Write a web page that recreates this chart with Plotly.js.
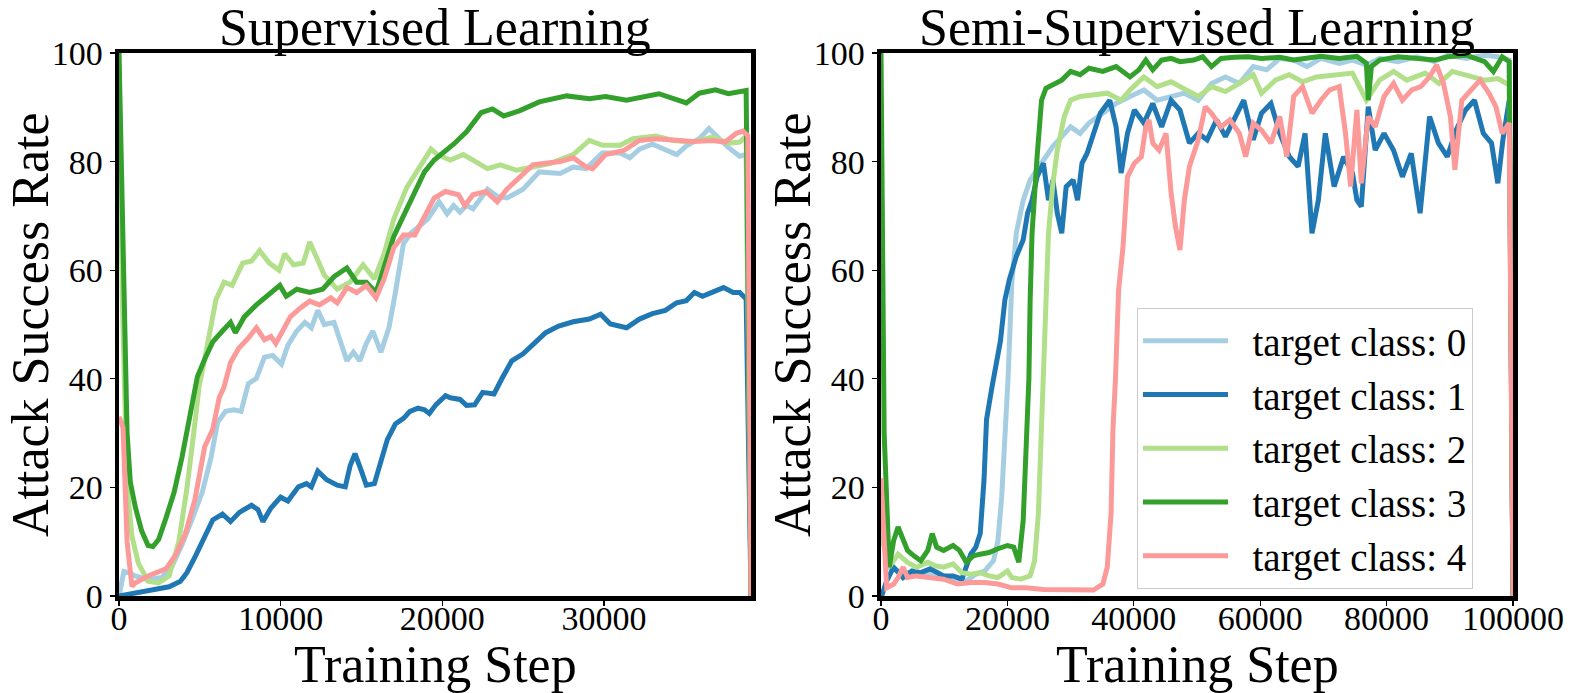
<!DOCTYPE html>
<html>
<head>
<meta charset="utf-8">
<script src="https://cdn.plot.ly/plotly-3.0.1.min.js"></script>
<style>html,body{margin:0;padding:0;background:#fff;}#chart{width:1574px;height:693px;}</style>
</head>
<body>
<div id="chart"></div>
<script>
// ---------- DATA ----------
var classNames = ["target class: 0", "target class: 1", "target class: 2", "target class: 3", "target class: 4"];
var classColors = ["#a6cee3", "#1f78b4", "#b2df8a", "#33a02c", "#fb9a99"];
var subplotTitles = ["Supervised Learning", "Semi-Supervised Learning"];
var xTitle = "Training Step";
var yTitle = "Attack Success Rate";
var supTickVals = [0, 10000, 20000, 30000];
var semiTickVals = [0, 20000, 40000, 60000, 80000, 100000];
var yTickVals = [0, 20, 40, 60, 80, 100];
var supXMax = 39100;
var semiXMax = 100000;

// Supervised Learning
var sup_x_c0 = [0, 300, 600, 1000, 1800, 2650, 3300, 3900, 4500, 5150, 5700, 6100, 6600, 7100, 7550, 8000, 8500, 9000, 9500, 10050, 10450, 11000, 11500, 11900, 12300, 12700, 13300, 13700, 14100, 14500, 14900, 15300, 15700, 16200, 16700, 17100, 17600, 18050, 18600, 19100, 19800, 20300, 20700, 21100, 21500, 21900, 22800, 23400, 24000, 25000, 26000, 27300, 28100, 28900, 29900, 31000, 31600, 32200, 33000, 33800, 34500, 35100, 35900, 36500, 37100, 37700, 38400, 38800, 39100];
var sup_y_c0 = [0, 4.5, 4.3, 3.7, 3, 3.4, 5.6, 9.5, 14, 19.1, 25.6, 32, 34, 34.3, 34, 39.1, 40.1, 44, 44.3, 42.7, 46.2, 48.8, 50.4, 49.4, 52.6, 50, 50.4, 46.8, 43.3, 44.9, 43.3, 46.5, 48.8, 44.9, 49.4, 55.9, 64.9, 66.8, 68.1, 69.4, 72.6, 70.4, 71.9, 70.7, 71.9, 71.3, 74.9, 73.6, 73.3, 74.9, 78.1, 77.8, 79, 78.7, 81.6, 81.6, 80.7, 82.3, 83.2, 82.3, 81.3, 82.9, 84.2, 86.1, 84.2, 82.6, 81, 81.3, 0];
var sup_x_c1 = [0, 1000, 2200, 3100, 3800, 4200, 4750, 5300, 5800, 6400, 6900, 7450, 8200, 8600, 8900, 9400, 10000, 10450, 11100, 11600, 11900, 12300, 12850, 13500, 14000, 14300, 14600, 15000, 15300, 15800, 16200, 16600, 17100, 17600, 18000, 18500, 18900, 19200, 19600, 20200, 20500, 21100, 21500, 22000, 22500, 23200, 23700, 24300, 25000, 25800, 26400, 27200, 28100, 29100, 29800, 30400, 31400, 32200, 33000, 33800, 34500, 35100, 35600, 36100, 36700, 37400, 38000, 38400, 38800, 39100];
var sup_y_c1 = [0, 0.6, 1.1, 1.7, 2.7, 4.3, 7.5, 10.8, 14, 15.1, 13.7, 15.4, 16.7, 15.9, 13.7, 16.2, 18.2, 17.5, 20.1, 20.7, 20.1, 23, 21.4, 20.4, 20.1, 24, 26.2, 23, 20.4, 20.7, 24.9, 28.8, 31.7, 32.7, 34, 34.6, 34.3, 33.6, 35.2, 36.9, 36.5, 36.2, 35.1, 35.2, 37.5, 37.2, 40.1, 43.3, 44.6, 46.8, 48.5, 49.7, 50.5, 51, 51.9, 50.1, 49.4, 51, 52, 52.6, 54, 54.4, 55.9, 55.2, 56, 56.8, 55.9, 55.9, 54.7, 0];
var sup_x_c2 = [0, 200, 500, 800, 1200, 1800, 2450, 3100, 3700, 4200, 4600, 4950, 5300, 5600, 6000, 6500, 7000, 7650, 8200, 8700, 9300, 9900, 10250, 10800, 11400, 11800, 12200, 12700, 13500, 14300, 15100, 15800, 16400, 17000, 17800, 18600, 19300, 19700, 20500, 21300, 21900, 22800, 23600, 24600, 25600, 26700, 28100, 29100, 29900, 31000, 31800, 33200, 34300, 35500, 36700, 37700, 38400, 38800, 39100];
var sup_y_c2 = [100, 55, 20, 11, 6, 2.7, 2.4, 3.7, 10, 19.8, 29.4, 38.5, 43.6, 48.8, 54.6, 57.8, 57.2, 61.3, 61.7, 63.6, 61.3, 60, 63, 61, 61.3, 65.2, 62.3, 59.1, 56.5, 57.8, 61, 58.4, 63, 69.4, 75.2, 79.1, 82.3, 81.3, 80.3, 81.3, 80.3, 78.7, 79.4, 78.4, 79, 79.7, 81.3, 83.9, 83, 83, 84.2, 84.7, 83.9, 83.6, 84.5, 83.4, 83.6, 84.7, 0];
var sup_x_c3 = [0, 250, 500, 700, 1000, 1400, 1800, 2100, 2450, 2900, 3400, 3900, 4400, 4850, 5300, 5800, 6400, 6900, 7200, 7750, 8500, 9300, 9950, 10350, 11000, 11800, 12600, 13300, 14100, 14700, 15300, 15900, 16400, 17000, 17600, 18300, 18900, 19500, 20200, 20700, 21500, 22400, 23100, 23800, 24800, 26000, 27700, 29100, 30100, 31400, 33400, 34300, 35100, 35900, 36900, 37700, 38800, 39100];
var sup_y_c3 = [100, 60, 30, 21, 16.5, 12, 9.3, 9.1, 10.4, 14.3, 19, 25.6, 33.3, 40.4, 43.6, 46.8, 48.8, 50.4, 48.5, 51.4, 53.6, 55.5, 57.2, 55.2, 56.5, 55.9, 56.5, 58.8, 60.4, 57.8, 57.8, 55.9, 60.4, 66.2, 70, 74.5, 78.1, 80.3, 82, 83.2, 85.5, 89, 89.7, 88.4, 89.4, 91, 92.1, 91.6, 92, 91.3, 92.5, 91.6, 90.8, 92.6, 93.2, 92.5, 93.1, 0];
var sup_x_c4 = [0, 250, 500, 800, 1000, 1800, 2900, 3500, 4100, 4700, 5300, 5800, 6200, 6500, 6900, 7400, 8000, 8500, 9000, 9400, 9700, 10100, 10600, 11200, 11800, 12400, 13100, 13500, 14100, 14700, 15300, 15900, 16400, 17000, 17600, 18300, 18900, 19500, 20200, 20500, 21000, 21400, 21900, 22700, 23400, 24000, 24800, 25600, 26400, 27300, 28100, 28900, 29300, 30100, 31200, 32200, 33200, 34300, 35500, 36700, 37500, 38200, 38600, 38900, 39100];
var sup_y_c4 = [33, 31, 10, 1.8, 2.4, 3.7, 5, 7.5, 11.4, 17.8, 27.5, 30.7, 36.5, 38.5, 43, 45.6, 47.5, 49.4, 47.2, 47.8, 46.5, 48.8, 51.4, 53, 54.3, 53.6, 54.9, 54, 56.8, 55.9, 57.2, 54.9, 58.4, 64.2, 66.5, 66.5, 70, 73.3, 74.5, 74.2, 73.9, 71.9, 73.9, 74.5, 72.6, 74.9, 77.1, 79.4, 79.7, 80, 80.7, 79, 78.7, 81.3, 82, 83.9, 84.2, 83.9, 83.7, 83.9, 83.6, 85.2, 85.6, 84.8, 0];

// Semi-Supervised Learning
var semi_x_c0 = [0, 400, 1300, 2700, 4200, 6300, 8500, 11400, 13500, 15000, 16400, 17800, 18500, 19100, 19600, 20100, 20700, 21400, 22500, 23600, 24700, 25700, 27200, 28600, 30000, 31500, 32900, 35100, 37200, 39400, 41600, 43700, 45900, 48000, 50200, 52300, 54500, 56700, 58900, 61000, 63100, 65300, 67400, 69600, 72500, 74600, 76800, 78900, 81800, 84700, 87600, 89700, 92600, 95500, 97600, 99400, 100000];
var semi_y_c0 = [20, 18, 5.3, 4.6, 4.3, 4, 4, 3.4, 2.8, 4, 4.6, 6.5, 10.2, 18.3, 27.6, 40, 57.6, 66.8, 72.9, 76.6, 78.5, 80.3, 82.8, 84.6, 86.4, 85.2, 87.1, 88.9, 90.7, 92, 93.2, 91.3, 92, 92.6, 91.3, 94.4, 95.6, 94.4, 97.5, 96.9, 99, 98.7, 97.5, 99, 98.1, 98.7, 97.8, 99, 98.4, 99.3, 98.4, 99.6, 99, 99.6, 99.3, 98.7, 0];
var semi_x_c1 = [0, 200, 900, 2000, 3500, 4900, 6300, 7800, 9900, 11400, 12800, 14200, 15000, 15700, 16300, 16700, 17500, 18200, 18900, 19600, 20300, 21400, 22500, 23200, 23900, 24700, 25700, 26500, 27200, 27900, 28600, 29300, 30400, 31100, 31800, 32600, 33600, 34700, 36200, 37200, 38000, 39000, 40100, 41600, 43000, 44400, 45900, 47300, 48800, 50200, 51600, 53100, 54500, 55900, 57400, 58900, 60200, 61700, 63100, 64600, 66000, 67100, 68200, 69200, 70300, 71700, 73200, 74600, 75300, 76000, 77100, 78200, 79600, 81100, 82500, 83900, 85300, 86800, 88200, 89600, 91000, 92500, 93900, 95300, 96600, 97600, 98400, 99400, 100000];
var semi_y_c1 = [0, 0.3, 2.8, 5.3, 3.4, 4.6, 4.3, 5, 3.7, 3.7, 3.1, 7.7, 9, 11.5, 21.4, 32.5, 38.1, 42, 47, 54.5, 58.2, 62.5, 65.6, 70.5, 72.9, 77.2, 79.7, 72.9, 76.6, 70.5, 66.8, 75.4, 76.6, 72.9, 79.7, 81.5, 85.2, 88.9, 91.3, 86.4, 77.9, 85.2, 89.5, 87.1, 90.7, 86.4, 91.3, 89.5, 83.4, 85.2, 84, 87.7, 84.6, 87.7, 91.3, 84, 88.9, 90.7, 85.2, 80.9, 79.1, 85.2, 66.8, 72.9, 85.2, 75.4, 80.9, 77.9, 72.9, 71.7, 90.1, 82.1, 85.2, 82.1, 77.2, 81.5, 70.5, 88.3, 83.4, 80.9, 85.8, 89.5, 91.3, 85.2, 83.4, 76, 84, 91.3, 0];
var semi_x_c2 = [0, 300, 1300, 2700, 4200, 5600, 7400, 8500, 9900, 11400, 12800, 14200, 15700, 17100, 18500, 20000, 20700, 22100, 23600, 24300, 24900, 25400, 25700, 26500, 27200, 27900, 29000, 30000, 31500, 33600, 35800, 38000, 39400, 41600, 43700, 45900, 48000, 50200, 52300, 54500, 56700, 58900, 60200, 62400, 64600, 66700, 68900, 71800, 74600, 76800, 78900, 81100, 83200, 86100, 88300, 90400, 93300, 95500, 97600, 99400, 100000];
var semi_y_c2 = [15, 10, 5.3, 7.7, 6.2, 5.3, 6.2, 5.6, 5.3, 5.9, 4.3, 4, 4.3, 3.7, 3.4, 4.6, 3.4, 3.1, 3.7, 6.5, 15.2, 30.7, 40, 66.8, 76, 82.1, 88.3, 91.3, 92, 92.3, 92.6, 91.3, 93.2, 95.6, 93.8, 94.7, 93.5, 92, 93.8, 92.9, 94.4, 96, 92.6, 95, 96, 94.7, 95.6, 96, 96.3, 91.3, 95, 96.6, 95, 96.3, 94.4, 96.6, 95.6, 95, 95.3, 94.1, 0];
var semi_x_c3 = [0, 500, 1300, 2000, 2700, 3500, 4200, 5200, 6300, 7400, 8100, 8800, 9900, 11400, 12400, 13500, 14600, 15700, 17100, 18500, 20000, 21000, 21800, 22500, 23000, 23400, 23600, 23900, 24700, 25400, 26100, 27200, 28600, 30000, 31500, 32900, 35100, 37200, 39400, 40800, 41900, 43000, 44400, 45900, 47300, 49500, 50900, 52300, 53800, 55900, 58100, 60200, 63100, 65300, 67400, 69600, 72500, 75300, 76800, 77100, 77600, 78900, 81800, 84700, 87600, 89700, 92600, 95500, 96900, 98300, 99400, 100000];
var semi_y_c3 = [100, 30, 5.3, 10.2, 12.7, 10.2, 8.4, 7.4, 6.5, 8.4, 11.5, 9, 8.4, 9.3, 8.4, 6.2, 7.4, 7.7, 8, 8.7, 9.3, 9, 6.2, 13.9, 27.6, 40, 54.5, 66.8, 80.9, 91.3, 93.5, 94.1, 95, 96.6, 96, 97.2, 96.6, 97.5, 95.6, 96.9, 98.7, 96.9, 98.7, 99, 98.4, 98.7, 99.3, 97.5, 99, 99.2, 99.3, 99, 99.2, 98.7, 99, 99.4, 99, 99.4, 98.1, 91.3, 97.5, 98.7, 99.3, 99, 98.7, 99.3, 99.6, 98.4, 96.6, 99.3, 98.4, 0];
var semi_x_c4 = [0, 300, 900, 2000, 2700, 3500, 4200, 5600, 7800, 9900, 12100, 14200, 16400, 18500, 20700, 22900, 25700, 28600, 31500, 33600, 35100, 35800, 36400, 36700, 37100, 37600, 38300, 39000, 40100, 41200, 41900, 42400, 43000, 44000, 45100, 45900, 46600, 47300, 48000, 48800, 50200, 51300, 52300, 53800, 55200, 56700, 57700, 58900, 60200, 61700, 63100, 64200, 65300, 66700, 68200, 69600, 71000, 72500, 73500, 74300, 75300, 76000, 77100, 78200, 79600, 81100, 82500, 84000, 85400, 86800, 87900, 89000, 90100, 90800, 91900, 93300, 94800, 96200, 97300, 98300, 99400, 100000];
var semi_y_c4 = [21.7, 15, 1.5, 2.2, 3.4, 5.3, 3.4, 3.7, 3.4, 3.1, 2.2, 2.5, 2.5, 2.2, 1.5, 1.5, 1.2, 1.2, 1.1, 1.1, 2.2, 5.3, 15.2, 30.7, 40, 56.4, 64.4, 77.2, 79.7, 80.9, 86.4, 87.7, 83.4, 82.1, 85.2, 74.2, 68, 63.7, 72.9, 79.1, 84, 90.1, 88.9, 86.4, 87.7, 85.2, 80.9, 87.1, 85.8, 83.4, 88.3, 80.9, 92, 93.8, 88.9, 91.3, 93.2, 93.8, 85.2, 75.4, 89.5, 76, 88.3, 86.4, 92, 94.4, 91.3, 93.2, 93.8, 95.6, 97.8, 94.4, 88.3, 78.5, 91.3, 93.2, 95, 92.6, 90.1, 85.2, 87.1, 0];

// ---------- BUILD ----------
var supX = [sup_x_c0, sup_x_c1, sup_x_c2, sup_x_c3, sup_x_c4];
var supY = [sup_y_c0, sup_y_c1, sup_y_c2, sup_y_c3, sup_y_c4];
var semiX = [semi_x_c0, semi_x_c1, semi_x_c2, semi_x_c3, semi_x_c4];
var semiY = [semi_y_c0, semi_y_c1, semi_y_c2, semi_y_c3, semi_y_c4];

var FONT = "Liberation Serif, Times New Roman, serif";
var NB = "\u00a0\u00a0";
var traces = [];
for (var i = 0; i < 5; i++) {
  traces.push({
    type: "scatter", mode: "lines", x: supX[i], y: supY[i],
    xaxis: "x", yaxis: "y", name: classNames[i], legendgroup: "c" + i,
    showlegend: false, line: {color: classColors[i], width: 5}, hoverinfo: "skip"
  });
}
for (var j = 0; j < 5; j++) {
  traces.push({
    type: "scatter", mode: "lines", x: semiX[j], y: semiY[j],
    xaxis: "x2", yaxis: "y2", name: NB + classNames[j], legendgroup: "c" + j,
    showlegend: true, line: {color: classColors[j], width: 5}, hoverinfo: "skip"
  });
}

var d1 = [0, 632 / 1394];
var d2 = [762 / 1394, 1];

function xAxis(domain, range, tickvals, anchor) {
  return {
    domain: domain, range: range, anchor: anchor, tickvals: tickvals, tickformat: "d",
    showgrid: false, zeroline: false, showline: true, mirror: true, linecolor: "#000", linewidth: 4.5,
    ticks: "outside", ticklen: 5, tickwidth: 1.2, tickcolor: "#000", ticklabelstandoff: -16,
    tickfont: {family: FONT, size: 34, color: "#000"}
  };
}
function yAxis(anchor) {
  return {
    domain: [0, 1], range: [0, 100], anchor: anchor, tickvals: yTickVals,
    showgrid: false, zeroline: false, showline: true, mirror: true, linecolor: "#000", linewidth: 4.5,
    ticks: "outside", ticklen: 5, tickwidth: 1.2, tickcolor: "#000",
    tickfont: {family: FONT, size: 34, color: "#000"}
  };
}

var titleFont = {family: FONT, size: 52, color: "#000"};
function ann(o) {
  var a = {xref: "paper", yref: "paper", showarrow: false, font: titleFont};
  for (var k in o) a[k] = o[k];
  return a;
}

var layout = {
  width: 1574, height: 693,
  margin: {l: 119, r: 61, t: 53, b: 97, pad: 0},
  paper_bgcolor: "#fff", plot_bgcolor: "#fff",
  font: {family: FONT, color: "#000"},
  xaxis: xAxis(d1, [0, supXMax], supTickVals, "y"),
  yaxis: yAxis("x"),
  xaxis2: xAxis(d2, [0, semiXMax], semiTickVals, "y2"),
  yaxis2: yAxis("x2"),
  showlegend: true,
  legend: {
    x: (1137 - 119) / 1394, y: (596 - 308) / 543, xanchor: "left", yanchor: "top",
    bgcolor: "rgba(255,255,255,0.8)", bordercolor: "#cccccc", borderwidth: 1,
    font: {family: FONT, size: 39, color: "#000"}, itemwidth: 85, tracegroupgap: 0
  },
  annotations: [
    ann({text: subplotTitles[0], x: (d1[0] + d1[1]) / 2, y: 1, xanchor: "center", yanchor: "bottom", yshift: -5}),
    ann({text: subplotTitles[1], x: (d2[0] + d2[1]) / 2, y: 1, xanchor: "center", yanchor: "bottom", yshift: -5}),
    ann({text: xTitle, x: (d1[0] + d1[1]) / 2, y: 0, xanchor: "center", yanchor: "top", yshift: -38}),
    ann({text: xTitle, x: (d2[0] + d2[1]) / 2, y: 0, xanchor: "center", yanchor: "top", yshift: -38}),
    ann({text: yTitle, x: d1[0], y: 0.5, xanchor: "left", yanchor: "middle", xshift: -119, textangle: -90}),
    ann({text: yTitle, x: d2[0], y: 0.5, xanchor: "left", yanchor: "middle", xshift: -119, textangle: -90})
  ]
};

Plotly.newPlot("chart", traces, layout, {displayModeBar: false, staticPlot: true});
</script>
</body>
</html>
